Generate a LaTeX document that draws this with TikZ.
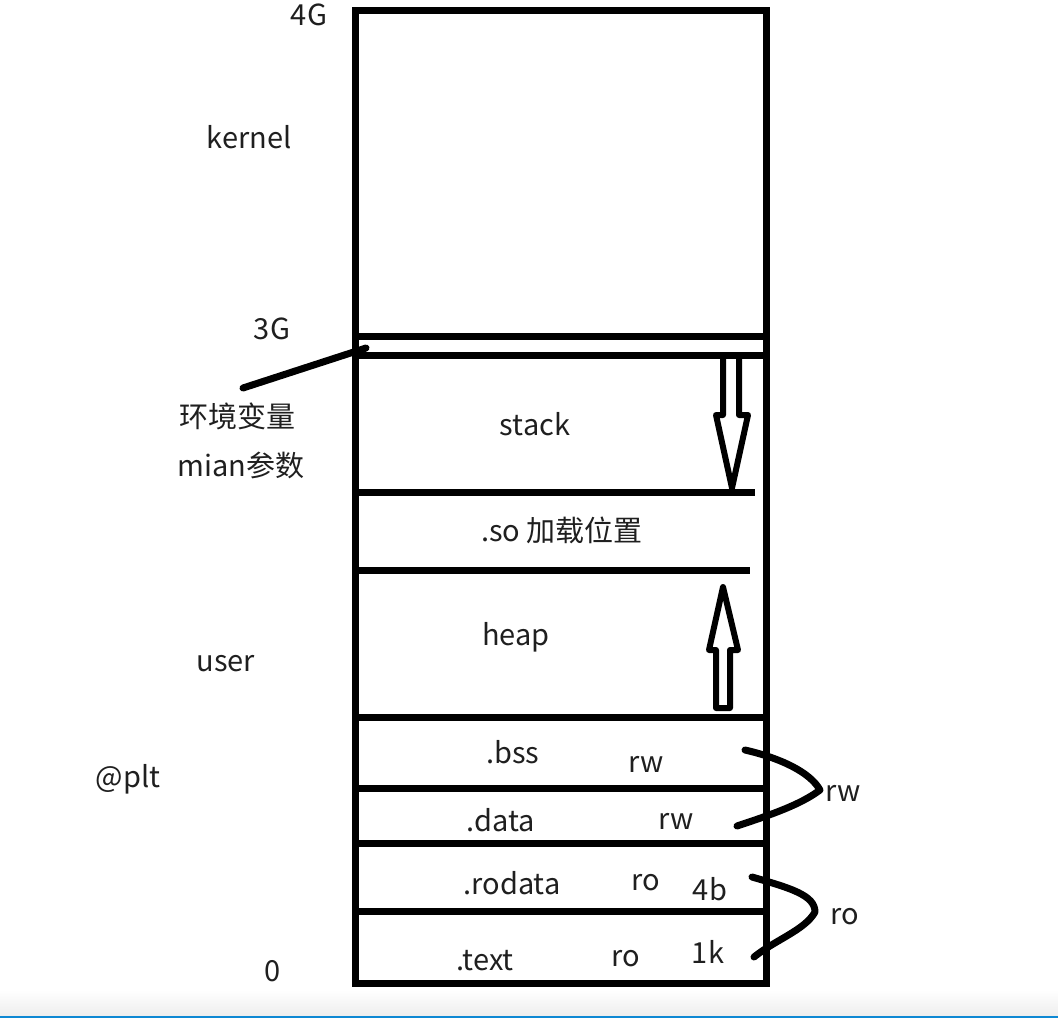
\documentclass[tikz,border=0pt]{standalone}
\usepackage{fontspec}
\setmainfont{Noto Sans CJK SC}
\begin{document}
\begin{tikzpicture}[x=1pt,y=-1pt,
  thick line/.style={line width=7pt, line cap=round, line join=round},
  arrowline/.style={line width=6pt, line join=round, line cap=round},
  lbl/.style={anchor=base, inner sep=0pt, text=black!88, font=\fontsize{29}{33}\selectfont}]
\useasboundingbox (0,0) rectangle (1058,1018);
% bottom strip
\shade[top color=white, bottom color=black!7] (0,990) rectangle (1058,1016);
\fill[cyan!70!blue] (0,1016) rectangle (1058,1018);
% main box
\draw[line width=7pt] (355,10) rectangle (766,983);
% separators
\draw[thick line, line cap=butt] (355,336) -- (766,336);
\draw[thick line, line cap=butt] (355,355) -- (764,355);
\draw[thick line, line cap=butt] (355,492) -- (755,492);
\draw[thick line, line cap=butt] (355,570) -- (750,570);
\draw[thick line, line cap=butt] (355,717) -- (766,717);
\draw[thick line, line cap=butt] (355,788) -- (766,788);
\draw[thick line, line cap=butt] (355,843) -- (766,843);
\draw[thick line, line cap=butt] (355,911) -- (766,911);
% stack arrow (down)
\draw[arrowline] (723,358) -- (723,415) -- (716,415) -- (732,488) -- (748,415) -- (739,415) -- (739,358);
% heap arrow (up)
\draw[arrowline] (716,708) -- (716,650) -- (709,650) -- (723,587) -- (738,650) -- (730,650) -- (730,708) -- cycle;
% annotation pointer
\coordinate (envA) at (243,388);
\coordinate (envB) at (366,348);
\draw[thick line] (envA) -- (envB);
% braces
\coordinate (rw1) at (745,750);
\coordinate (rwm) at (820,790);
\coordinate (rw2) at (737,826);
\draw[thick line] (rw1) .. controls (780,758) and (810,772) .. (rwm) .. controls (800,805) and (770,815) .. (rw2);
\coordinate (ro1) at (752,877);
\coordinate (rom) at (815,912);
\coordinate (ro2) at (754,957);
\draw[thick line] (ro1) .. controls (790,888) and (815,895) .. (rom) .. controls (805,930) and (775,940) .. (ro2);
% labels
\node[lbl] (t4g) at (309,25) {4G};
\node[lbl] (tkernel) at (249,148) {kernel};
\node[lbl] (t3g) at (272,339) {3G};
\node[lbl] (tenv) at (237,427) {环境变量};
\node[lbl] (tmain) at (241,476) {mian参数};
\node[lbl] (tstack) at (535,435) {stack};
\node[lbl] (tso) at (562,541) {.so 加载位置};
\node[lbl] (theap) at (516,645) {heap};
\node[lbl] (tuser) at (226,671) {user};
\node[lbl] (tplt) at (128,787) {@plt};
\node[lbl] (tbss) at (513,763) {.bss};
\node[lbl] (trw1) at (646,772) {rw};
\node[lbl] (tdata) at (501,831) {.data};
\node[lbl] (trw2) at (676,829) {rw};
\node[lbl] (trw) at (843,801) {rw};
\node[lbl] (trodata) at (512,894) {.rodata};
\node[lbl] (tro1) at (646,890) {ro};
\node[lbl] (t4b) at (710,900) {4b};
\node[lbl] (tro) at (845,924) {ro};
\node[lbl] (ttext) at (485,970) {.text};
\node[lbl] (tro2) at (626,966) {ro};
\node[lbl] (t1k) at (708,963) {1k};
\node[lbl] (t0) at (273,981) {0};
\end{tikzpicture}
\end{document}
